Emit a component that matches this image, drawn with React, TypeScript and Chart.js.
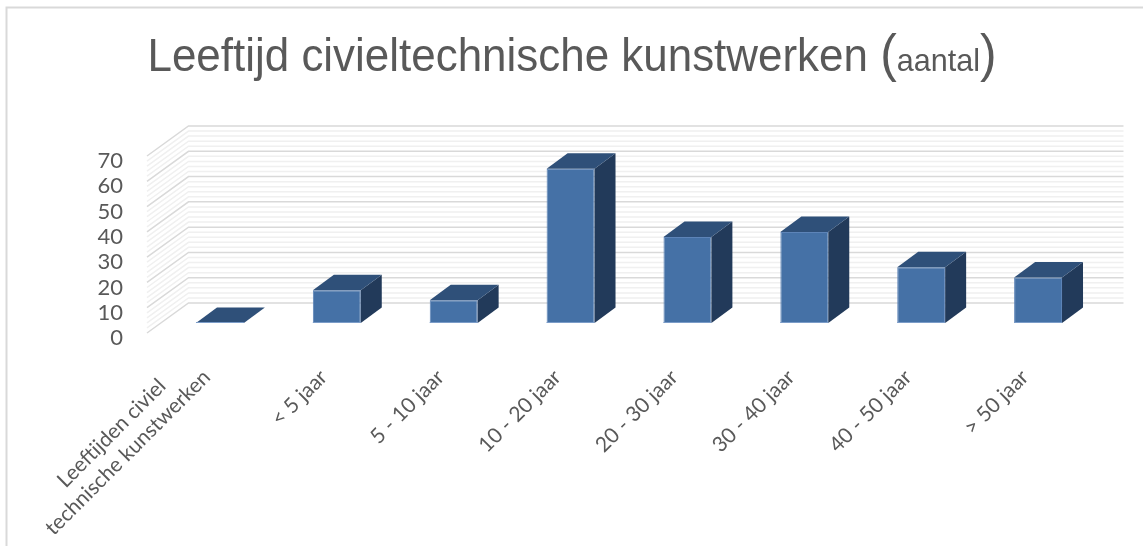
import React, { useEffect, useRef } from "react";
import { Chart, registerables } from "chart.js";

Chart.register(...registerables);

// ---- data ----
const categories: (string | string[])[] = [
  ["Leeftijden civiel", "technische kunstwerken"],
  "< 5 jaar",
  "5 - 10 jaar",
  "10 - 20 jaar",
  "20 - 30 jaar",
  "30 - 40 jaar",
  "40 - 50 jaar",
  "> 50 jaar",
];
const values = [0, 13, 9, 61, 34, 36, 22, 18];
const yMin = 0;
const yMax = 70;
const yStep = 10;
const yMinorStep = 2;
const titleMain = "Leeftijd civieltechnische kunstwerken ";
const titleUnit = "aantal";

// ---- style ----
const W = 1143;
const H = 546;
const FRONT = { dx: -14.5, dy: 10 };
const BACK = { dx: 27, dy: -20 };
const BAR_DEPTH = { dx: 21, dy: -15.5 };
const textColor = "#595959";
const labelFamily = "Lato, 'Open Sans', sans-serif";
const xFontSize = 21;

// centre the lines of a multi-line label (Excel style) by padding shorter lines,
// and put single-line labels on the last line so all last lines share one baseline
const measureCtx = (() => {
  const c = document.createElement("canvas");
  return c.getContext("2d")!;
})();
function formatLabel(label: string | string[]): string[] {
  measureCtx.font = `${xFontSize}px ${labelFamily}`;
  if (!Array.isArray(label)) return ["", label];
  const widths = label.map((l) => measureCtx.measureText(l).width);
  const maxW = Math.max(...widths);
  const sp = measureCtx.measureText(" ").width || 5;
  return label.map((l, i) => {
    const n = Math.round((maxW - widths[i]) / 2 / sp);
    return l + " ".repeat(Math.max(0, n));
  });
}

const wallPlugin = {
  id: "wall3d",
  beforeDraw(chart: any) {
    const ctx = chart.ctx;
    ctx.save();
    ctx.strokeStyle = "#d9d9d9";
    ctx.lineWidth = 2;
    ctx.beginPath();
    ctx.moveTo(6.5, H);
    ctx.lineTo(6.5, 7.5);
    ctx.lineTo(W, 7.5);
    ctx.stroke();
    ctx.restore();
  },
  beforeDatasetsDraw(chart: any) {
    const ctx = chart.ctx;
    const ys = chart.scales.y;
    const { left, right } = chart.chartArea;
    ctx.save();
    ctx.lineWidth = 1.5;
    for (let v = yMin; v <= yMax; v += yMinorStep) {
      const major = v % yStep === 0;
      const y = ys.getPixelForValue(v);
      ctx.strokeStyle = major ? "#d9d9d9" : "#f0f0f0";
      ctx.beginPath();
      ctx.moveTo(left + FRONT.dx, y + FRONT.dy);
      ctx.lineTo(left + BACK.dx, y + BACK.dy);
      ctx.lineTo(right + BACK.dx, y + BACK.dy);
      ctx.stroke();
    }
    ctx.restore();
  },
  afterDatasetsDraw(chart: any) {
    const ctx = chart.ctx;
    const meta = chart.getDatasetMeta(0);
    ctx.save();
    meta.data.forEach((el: any) => {
      const { x, y, base, width } = el.getProps(["x", "y", "base", "width"], true);
      const l = x - width / 2;
      const r = x + width / 2;
      const { dx, dy } = BAR_DEPTH;
      // side face
      ctx.fillStyle = "#223a5a";
      ctx.beginPath();
      ctx.moveTo(r, y);
      ctx.lineTo(r + dx, y + dy);
      ctx.lineTo(r + dx, base + dy);
      ctx.lineTo(r, base);
      ctx.closePath();
      ctx.fill();
      // top face
      ctx.fillStyle = "#2f5079";
      ctx.beginPath();
      ctx.moveTo(l, y);
      ctx.lineTo(r, y);
      ctx.lineTo(r + dx, y + dy);
      ctx.lineTo(l + dx, y + dy);
      ctx.closePath();
      ctx.fill();
      // light front bottom edge
      ctx.strokeStyle = "#7b9cc8";
      ctx.lineWidth = 1;
      ctx.beginPath();
      ctx.moveTo(l, base - 0.5);
      ctx.lineTo(r, base - 0.5);
      ctx.stroke();
    });
    ctx.restore();
  },
  afterDraw(chart: any) {
    const ctx = chart.ctx;
    const fam = '"Liberation Sans", Arial, sans-serif';
    const parts = [
      { t: titleMain, s: 46 },
      { t: "(", s: 52 },
      { t: titleUnit, s: 32 },
      { t: ")", s: 52 },
    ];
    ctx.save();
    let total = 0;
    const widths = parts.map((p) => {
      ctx.font = `${p.s}px ${fam}`;
      const w = ctx.measureText(p.t).width;
      total += w;
      return w;
    });
    const targetW = 849;
    const sx = targetW / total;
    const startX = W / 2 - targetW / 2 + 0.5;
    const baseline = 71;
    ctx.translate(startX, baseline);
    ctx.scale(sx, 1);
    ctx.fillStyle = textColor;
    ctx.textBaseline = "alphabetic";
    ctx.textAlign = "left";
    let cx = 0;
    parts.forEach((p, i) => {
      ctx.font = `${p.s}px ${fam}`;
      ctx.fillText(p.t, cx, 0);
      cx += widths[i];
    });
    ctx.restore();
  },
};

export default function App() {
  const ref = useRef<HTMLCanvasElement | null>(null);
  useEffect(() => {
    if (!ref.current) return;
    const chart = new Chart(ref.current, {
      type: "bar",
      data: {
        labels: categories as any,
        datasets: [
          {
            data: values,
            backgroundColor: "#4571a6",
            borderColor: "#5d84b8",
            borderWidth: 1,
            borderSkipped: false,
            barPercentage: 0.41,
            categoryPercentage: 1,
          },
        ],
      },
      options: {
        animation: false,
        responsive: false,
        devicePixelRatio: 1,
        layout: { padding: { top: 146, right: 46.5, left: 0, bottom: 0 } },
        plugins: {
          legend: { display: false },
          title: { display: false },
          tooltip: { enabled: false },
        },
        scales: {
          x: {
            grid: { display: false, drawTicks: false },
            border: { display: false },
            ticks: {
              autoSkip: false,
              maxRotation: 45,
              minRotation: 45,
              padding: 24,
              labelOffset: -31,
              color: textColor,
              font: { family: labelFamily, size: xFontSize },
              callback: (_v: any, i: number) => formatLabel(categories[i]),
            },
            afterFit: (s: any) => {
              s.height = 223;
            },
          },
          y: {
            min: yMin,
            max: yMax,
            grid: { display: false, drawTicks: false },
            border: { display: false },
            ticks: {
              autoSkip: false,
              stepSize: yStep,
              padding: 38.5,
              labelOffset: 15,
              color: textColor,
              font: { family: labelFamily, size: 22 },
            },
            afterFit: (s: any) => {
              s.width = 161.5;
            },
          },
        },
      },
      plugins: [wallPlugin],
    });
    return () => chart.destroy();
  }, []);
  return (
    <div style={{ position: "fixed", left: 0, top: 0, width: W, height: H, background: "#fff" }}>
      <canvas ref={ref} width={W} height={H} style={{ display: "block" }} />
    </div>
  );
}
